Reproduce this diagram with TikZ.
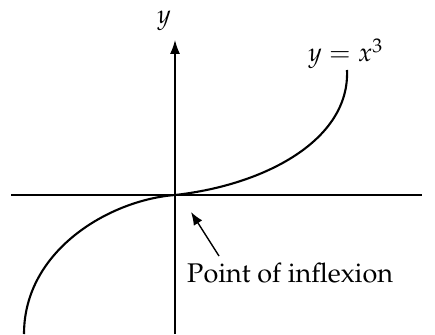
\documentclass[tikz,border=0pt]{standalone}
\usepackage[T1]{fontenc}
\usepackage{mathpazo}
\usetikzlibrary{arrows.meta}
\begin{document}
\begin{tikzpicture}[x=1pt,y=-1pt,
  axis/.style={line width=1.4pt},
  curve/.style={line width=2.1pt},
  mlbl/.style={inner sep=0pt,font=\fontsize{26}{30}\selectfont},
  lbl/.style={inner sep=0pt,font=\fontsize{27}{32}\selectfont}]
\useasboundingbox (0,0) rectangle (435,334);
\coordinate (O) at (175,195);
\coordinate (xl) at (11,195);
\coordinate (xr) at (422,195);
\coordinate (yb) at (175,334);
\coordinate (yt) at (175,40);
\draw[axis] (xl) -- (xr);
\draw[axis,-{Latex[length=14pt,width=10pt]}] (yb) -- (yt);
\draw[curve] (O) .. controls (265,185) and (350,140) .. (347,70);
\draw[curve] (O) .. controls (110,200) and (24,250) .. (24,334);
\node[mlbl,anchor=base] (ylab) at (164,24) {$y$};
\node[mlbl,anchor=base west] (flab) at (308,62) {$y = x^3$};
\node[lbl,anchor=base west] (pt) at (187,282) {Point of inflexion};
\coordinate (at) at (219,256);
\coordinate (ah) at (191,212);
\draw[axis,-{Latex[length=13pt,width=10pt]}] (at) -- (ah);
\end{tikzpicture}
\end{document}
